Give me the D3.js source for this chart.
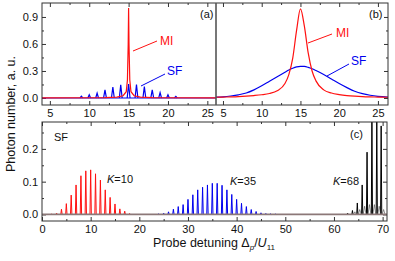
<!DOCTYPE html>
<html>
<head>
<meta charset="utf-8">
<script src="https://cdn.jsdelivr.net/npm/d3@7"></script>
<style>
  body { margin: 0; background: #fff; }
  text { font-family: "Liberation Sans", Arial, sans-serif; }
</style>
</head>
<body>
<svg id="chart" width="395" height="261"></svg>
<script>
// panel (a): narrow lines
var aSfPos = [9, 10, 11, 12, 13, 14, 15, 16, 17, 18, 19, 20, 21];
var aSfVal = [0.02, 0.036, 0.054, 0.09, 0.12, 0.145, 0.155, 0.148, 0.126, 0.09, 0.06, 0.036, 0.018];
var aMiX = [4, 12, 13.5, 14.3, 14.7, 14.85, 14.95, 15, 15.05, 15.15, 15.3, 15.7, 16.5, 18, 26.1];
var aMiY = [0.002, 0.004, 0.01, 0.025, 0.07, 0.2, 0.6, 1.0, 0.6, 0.2, 0.07, 0.025, 0.01, 0.004, 0.002];

// panel (b): broadened curves
var bX  = [4, 5, 6, 7, 8, 9, 10, 11, 12, 13, 13.5, 14, 14.5, 15, 15.5, 16, 16.5, 17, 18, 19, 20, 21, 22, 23, 24, 25, 26.3];
var bMi = [0.008, 0.01, 0.012, 0.015, 0.02, 0.027, 0.036, 0.05, 0.08, 0.16, 0.26, 0.44, 0.75, 0.99, 0.8, 0.5, 0.3, 0.19, 0.09, 0.055, 0.038, 0.027, 0.02, 0.015, 0.012, 0.01, 0.008];
var bSf = [0.008, 0.013, 0.022, 0.035, 0.055, 0.09, 0.135, 0.185, 0.235, 0.285, 0.31, 0.33, 0.345, 0.352, 0.35, 0.34, 0.325, 0.305, 0.26, 0.21, 0.16, 0.115, 0.075, 0.048, 0.03, 0.018, 0.01];

// panel (c): SF spectra for three K
var cK10Pos = [2, 3, 4, 5, 6, 7, 8, 9, 10, 11, 12, 13, 14, 15, 16, 17, 18];
var cK10Val = [0.001, 0.004, 0.016, 0.033, 0.059, 0.09, 0.118, 0.133, 0.136, 0.124, 0.105, 0.075, 0.052, 0.032, 0.017, 0.01, 0.003];
var cK35Pos = [24, 25, 26, 27, 28, 29, 30, 31, 32, 33, 34, 35, 36, 37, 38, 39, 40, 41, 42, 43, 44, 45, 46, 47, 48];
var cK35Val = [0.002, 0.004, 0.008, 0.016, 0.024, 0.03, 0.046, 0.06, 0.075, 0.083, 0.09, 0.095, 0.095, 0.089, 0.075, 0.061, 0.046, 0.034, 0.024, 0.015, 0.009, 0.005, 0.003, 0.002, 0.001];
var cK68Pos = [62.8, 63.8, 64.8, 65.8, 66.8, 67.8, 68.8, 69.7];
var cK68Val = [0.004, 0.012, 0.035, 0.09, 0.19, 0.31, 0.30, 0.27];
var cK68SidePos = [64.3, 65.3, 66.3, 67.3, 68.3, 69.3, 70.2];
var cK68SideVal = [0.008, 0.015, 0.025, 0.03, 0.03, 0.025, 0.015];

var aTicks = [5, 10, 15, 20, 25];
var aYTicks = [0, 0.3, 0.6, 0.9];
var cTicks = [0, 10, 20, 30, 40, 50, 60, 70];
var cYTicks = [0, 0.1, 0.2];

var svg = d3.select("#chart");
var frameColor = "#333";

var xa = d3.scaleLinear().domain([4, 26.1]).range([42, 216]);
var xb = d3.scaleLinear().domain([4.1, 26.3]).range([216, 388]);
var ya = d3.scaleLinear().domain([-0.078, 1.055]).range([105, 3]);
var xc = d3.scaleLinear().domain([0, 70.9]).range([42, 387]);
var yc = d3.scaleLinear().domain([-0.02, 0.282]).range([221, 122]);

function clip(id, x0, y0, x1, y1) {
  svg.append("clipPath").attr("id", id).append("rect")
    .attr("x", x0).attr("y", y0).attr("width", x1 - x0).attr("height", y1 - y0);
}
clip("ca", 42, 3, 216, 105);
clip("cb", 216, 3, 388, 105);
clip("cc", 42, 122, 387, 221);

// spike path for a list of line positions
function spikes(x, y, pos, val, w) {
  var p = "";
  for (var i = 0; i < pos.length; i++) {
    p += "M" + x(pos[i] - w) + "," + y(0) + "L" + x(pos[i]) + "," + y(val[i]) + "L" + x(pos[i] + w) + "," + y(0);
  }
  return p;
}

// axes: inward ticks, frame drawn separately
function axisSet(g, axis, scale, major, minor, labels, len) {
  var a = axis(scale).tickValues(major).tickSizeInner(-len).tickSizeOuter(0).tickPadding(4);
  if (!labels) a.tickFormat("");
  var sel = g.append("g").call(a);
  sel.select(".domain").remove();
  sel.selectAll("line").attr("stroke", frameColor);
  sel.selectAll("text").attr("font-size", 11).attr("fill", "#111")
    .attr("font-family", "Liberation Sans, Arial, sans-serif");
  if (minor) {
    var m = g.append("g").call(axis(scale).tickValues(minor).tickSizeInner(-2).tickSizeOuter(0).tickFormat(""));
    m.select(".domain").remove();
    m.selectAll("line").attr("stroke", frameColor);
  }
  return sel;
}

// ----- panel (a)
var ga = svg.append("g");
axisSet(ga.append("g").attr("transform", "translate(0,105)"), d3.axisBottom, xa, aTicks, [7.5, 12.5, 17.5, 22.5], true, 4);
axisSet(ga.append("g").attr("transform", "translate(0,3)"), d3.axisTop, xa, aTicks, [7.5, 12.5, 17.5, 22.5], false, 4);
axisSet(ga.append("g").attr("transform", "translate(42,0)"), d3.axisLeft, ya, aYTicks, [0.15, 0.45, 0.75], true, 4)
  .selectAll("text").text(function (d) { return d3.format(".1f")(d); });

var pa = ga.append("g").attr("clip-path", "url(#ca)");
pa.append("line").attr("x1", 42).attr("x2", 216).attr("y1", ya(0)).attr("y2", ya(0))
  .attr("stroke", "#0000ee").attr("stroke-width", 1.2);
pa.append("path").attr("d", spikes(xa, ya, aSfPos, aSfVal, 0.18))
  .attr("fill", "none").attr("stroke", "#0000ee").attr("stroke-width", 1.2);
pa.append("path").datum(aMiX)
  .attr("d", d3.line().x(function (d) { return xa(d); }).y(function (d, i) { return ya(aMiY[i]); }))
  .attr("fill", "none").attr("stroke", "#ff1010").attr("stroke-width", 1.2);

// ----- panel (b)
var gb = svg.append("g");
axisSet(gb.append("g").attr("transform", "translate(0,105)"), d3.axisBottom, xb, aTicks, [7.5, 12.5, 17.5, 22.5], true, 4);
axisSet(gb.append("g").attr("transform", "translate(0,3)"), d3.axisTop, xb, aTicks, [7.5, 12.5, 17.5, 22.5], false, 4);
axisSet(gb.append("g").attr("transform", "translate(388,0)"), d3.axisRight, ya, aYTicks, [0.15, 0.45, 0.75], false, 4);

var pb = gb.append("g").attr("clip-path", "url(#cb)");
var lineB = function (vals) {
  return d3.line().curve(d3.curveMonotoneX)
    .x(function (d) { return xb(d); }).y(function (d, i) { return ya(vals[i]); })(bX);
};
pb.append("path").attr("d", lineB(bSf)).attr("fill", "none").attr("stroke", "#0000ee").attr("stroke-width", 1.2);
pb.append("path").attr("d", lineB(bMi)).attr("fill", "none").attr("stroke", "#ff1010").attr("stroke-width", 1.2);

// frames a & b
svg.append("rect").attr("x", 42).attr("y", 3).attr("width", 346).attr("height", 102)
  .attr("fill", "none").attr("stroke", frameColor).attr("stroke-width", 1);
svg.append("line").attr("x1", 216).attr("x2", 216).attr("y1", 3).attr("y2", 105)
  .attr("stroke", "#555").attr("stroke-width", 1.6);

// ----- panel (c)
var gc = svg.append("g");
axisSet(gc.append("g").attr("transform", "translate(0,221)"), d3.axisBottom, xc, cTicks, [5, 15, 25, 35, 45, 55, 65], true, 4);
axisSet(gc.append("g").attr("transform", "translate(0,122)"), d3.axisTop, xc, cTicks, [5, 15, 25, 35, 45, 55, 65], false, 4);
axisSet(gc.append("g").attr("transform", "translate(42,0)"), d3.axisLeft, yc, cYTicks, [0.05, 0.15, 0.25], true, 4)
  .selectAll("text").text(function (d) { return d3.format(".1f")(d); });
axisSet(gc.append("g").attr("transform", "translate(387,0)"), d3.axisRight, yc, cYTicks, [0.05, 0.15, 0.25], false, 4);

var pc = gc.append("g").attr("clip-path", "url(#cc)");
pc.append("path").attr("d", spikes(xc, yc, cK10Pos, cK10Val, 0.14))
  .attr("fill", "none").attr("stroke", "#ff1010").attr("stroke-width", 1);
pc.append("path").attr("d", spikes(xc, yc, cK35Pos, cK35Val, 0.14))
  .attr("fill", "none").attr("stroke", "#0000ee").attr("stroke-width", 1);
pc.append("path").attr("d", spikes(xc, yc, cK68Pos, cK68Val, 0.12))
  .attr("fill", "none").attr("stroke", "#000").attr("stroke-width", 1);
pc.append("path").attr("d", spikes(xc, yc, cK68SidePos, cK68SideVal, 0.3))
  .attr("fill", "none").attr("stroke", "#444").attr("stroke-width", 0.6);
pc.append("line").attr("x1", 42).attr("x2", 387).attr("y1", yc(0)).attr("y2", yc(0))
  .attr("stroke", "#8c7878").attr("stroke-width", 1.8);

svg.append("rect").attr("x", 42).attr("y", 122).attr("width", 345).attr("height", 99)
  .attr("fill", "none").attr("stroke", frameColor).attr("stroke-width", 1);

// ----- annotations
function label(x, y, txt, color, size) {
  return svg.append("text").attr("x", x).attr("y", y).attr("font-size", size || 11)
    .attr("fill", color).text(txt);
}
function pointer(x1, y1, x2, y2, color) {
  svg.append("line").attr("x1", x1).attr("y1", y1).attr("x2", x2).attr("y2", y2)
    .attr("stroke", color).attr("stroke-width", 1);
}
label(160, 45, "MI", "#ff1010", 12);
pointer(133, 51, 157, 41, "#ff1010");
label(167, 75, "SF", "#0000ee", 12);
pointer(141, 86, 165, 74, "#0000ee");
label(336, 37, "MI", "#ff1010", 12);
pointer(308, 43, 332, 34, "#ff1010");
label(351, 65, "SF", "#0000ee", 12);
pointer(327, 76, 349, 64, "#0000ee");

label(200, 18, "(a)", "#111", 11);
label(369, 18, "(b)", "#111", 11);
label(350, 138, "(c)", "#111", 11);
label(54, 141, "SF", "#111", 11);

function kLabel(x, y, k) {
  var t = svg.append("text").attr("x", x).attr("y", y).attr("font-size", 11).attr("fill", "#111");
  t.append("tspan").attr("font-style", "italic").text("K");
  t.append("tspan").text("=" + k);
}
kLabel(107, 183, 10);
kLabel(230, 185, 35);
kLabel(333, 185, 68);

// axis titles
svg.append("text").attr("transform", "translate(15,114) rotate(-90)")
  .attr("text-anchor", "middle").attr("font-size", 12.5).attr("fill", "#111")
  .text("Photon number, a. u.");

var xt = svg.append("text").attr("x", 214).attr("y", 247).attr("text-anchor", "middle")
  .attr("font-size", 12.5).attr("fill", "#111");
xt.append("tspan").text("Probe detuning \u0394");
xt.append("tspan").attr("font-style", "italic").attr("font-size", 8).attr("dy", 3).text("p");
xt.append("tspan").attr("dy", -3).text("/");
xt.append("tspan").attr("font-style", "italic").text("U");
xt.append("tspan").attr("font-size", 8).attr("dy", 3).text("11");
</script>
</body>
</html>
